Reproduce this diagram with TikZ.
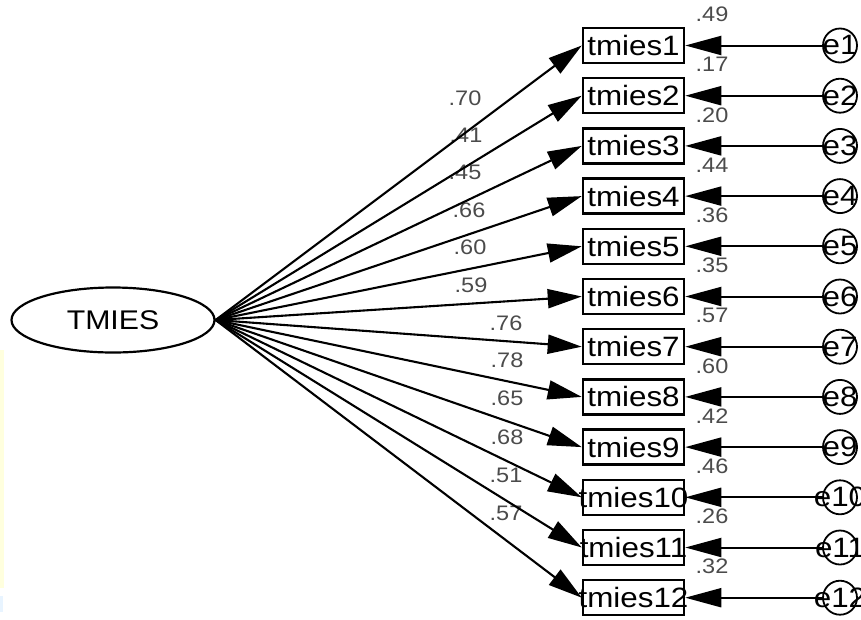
\documentclass[tikz,border=0pt]{standalone}
\usepackage{fontspec}
\setmainfont{Liberation Sans}
\newfontfamily\widesans[FakeStretch=1.12]{Liberation Sans}
\usetikzlibrary{arrows.meta,shapes.geometric}

\definecolor{lblgray}{RGB}{75,75,75}
\definecolor{paleyellow}{RGB}{255,255,222}
\definecolor{paleblue}{RGB}{232,244,255}

\tikzset{
  latent/.style={draw, ellipse, line width=2.2pt, minimum width=203pt,
    minimum height=65pt, inner sep=0pt,
    font=\widesans\fontsize{27}{27}\selectfont},
  indicator/.style={draw, rectangle, line width=2.5pt, minimum width=101pt,
    minimum height=35pt, inner sep=0pt, fill=white,
    font=\widesans\fontsize{28}{28}\selectfont},
  errterm/.style={draw, circle, line width=1.8pt, minimum size=34pt,
    inner sep=0pt, font=\widesans\fontsize{28}{28}\selectfont},
  coef/.style={text=lblgray, inner sep=0pt,
    font=\widesans\fontsize{21}{21}\selectfont},
  loading/.style={line width=2.1pt, -{Triangle[length=34pt,width=19pt]}},
  errpath/.style={line width=2pt, -{Triangle[length=36pt,width=19pt]}},
}

\begin{document}
\begin{tikzpicture}[x=1pt,y=-1pt]
\useasboundingbox (0,0) rectangle (861,619);

% faint tint strips along the left edge
\fill[paleyellow] (0,350) rectangle (4,588);
\fill[paleblue] (0,596) rectangle (3,612);

% latent factor
\node[latent] (F) at (113,320) {TMIES};

% indicators, error terms and coefficient labels
\foreach \i/\ld/\lx/\ly/\vr in {
  1/.70/465/98/.49,
  2/.41/466/135/.17,
  3/.45/465/172/.20,
  4/.66/469/210/.44,
  5/.60/470/247/.36,
  6/.59/471/285/.35,
  7/.76/506/323/.57,
  8/.78/507/360/.60,
  9/.65/507/398/.42,
  10/.68/507/437/.46,
  11/.51/506/475/.26,
  12/.57/506/513/.32} {
  \pgfmathsetmacro\rowy{45.5+50.2*(\i-1)}
  \node[indicator] (v\i) at (633.5,\rowy) {\makebox[0pt][c]{tmies\i}};
  \node[errterm] (e\i) at (840,\rowy) {\makebox[0pt][c]{e\i}};
  \node[coef] (r\i) at (712,\rowy-31) {\vr};
  \node[coef] (c\i) at (\lx,\ly) {\ld};
}

% factor loadings and error paths
\foreach \i in {1,...,12} {
  \draw[loading] (F.east) -- (v\i.west);
  \draw[errpath] (e\i.west) -- (v\i.east);
}
\end{tikzpicture}
\end{document}
